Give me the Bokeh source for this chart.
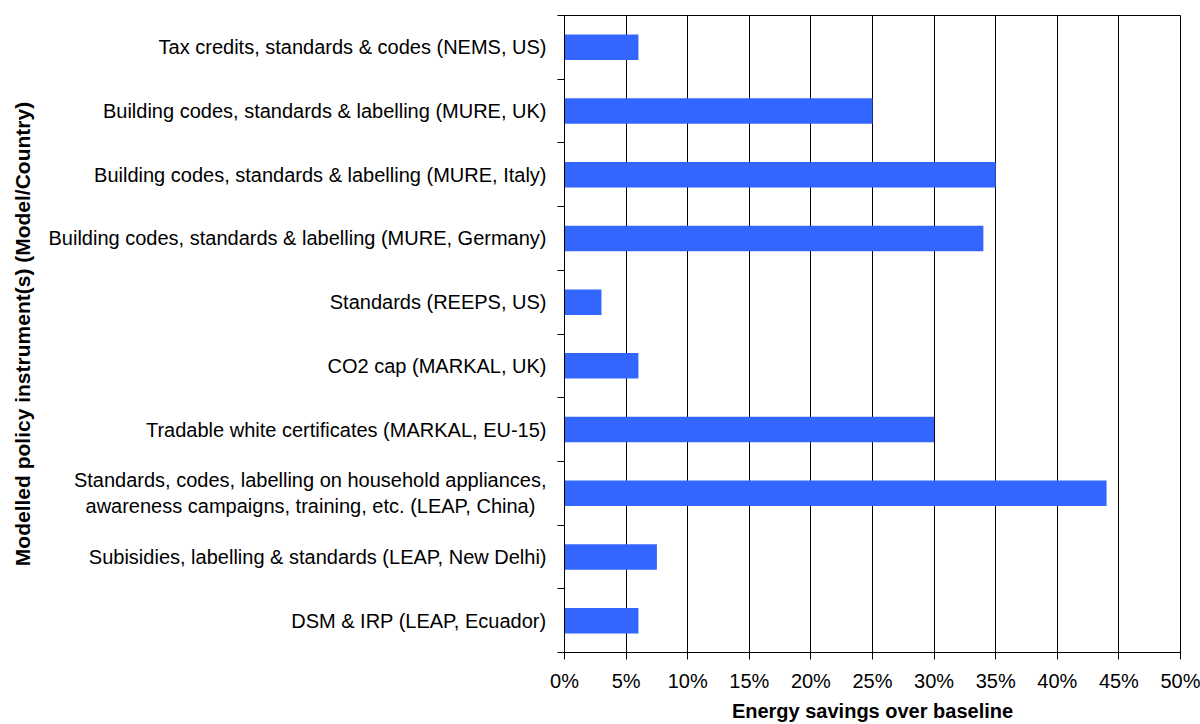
from bokeh.plotting import figure
from bokeh.models import FixedTicker, Range1d, NumeralTickFormatter
from bokeh.embed import file_html
from bokeh.resources import INLINE

# Data (top to bottom as shown)
categories = [
    "Tax credits, standards & codes (NEMS, US)",
    "Building codes, standards & labelling (MURE, UK)",
    "Building codes, standards & labelling (MURE, Italy)",
    "Building codes, standards & labelling (MURE, Germany)",
    "Standards (REEPS, US)",
    "CO2 cap (MARKAL, UK)",
    "Tradable white certificates (MARKAL, EU-15)",
    "Standards, codes, labelling on household appliances,\nawareness campaigns, training, etc. (LEAP, China)\u00a0\u00a0",
    "Subisidies, labelling & standards (LEAP, New Delhi)",
    "DSM & IRP (LEAP, Ecuador)",
]
savings = [0.06, 0.25, 0.35, 0.34, 0.03, 0.06, 0.30, 0.44, 0.075, 0.06]
x_ticks = [0.0, 0.05, 0.10, 0.15, 0.20, 0.25, 0.30, 0.35, 0.40, 0.45, 0.50]

n = len(categories)
centers = [n - i - 0.5 for i in range(n)]
boundaries = list(range(n + 1))

FONT = "Liberation Sans"

p = figure(
    width=1200, height=724,
    output_backend="svg", toolbar_location=None,
    x_range=Range1d(0, 0.5), y_range=Range1d(0, n),
    min_border_left=564, min_border_right=20,
    min_border_top=15, min_border_bottom=71,
)

p.hbar(y=centers, right=savings, left=0, height=0.4,
       fill_color="#3366FF", line_color=None)

# x axis
p.xaxis.ticker = FixedTicker(ticks=x_ticks)
p.xaxis.formatter = NumeralTickFormatter(format="0%")
p.xaxis.axis_label = "Energy savings over baseline"
p.xaxis.axis_label_text_font = FONT
p.xaxis.axis_label_text_font_style = "bold"
p.xaxis.axis_label_text_font_size = "20px"
p.xaxis.axis_label_text_color = "black"
p.xaxis.axis_label_standoff = 5
p.xaxis.major_label_text_font = FONT
p.xaxis.major_label_text_font_size = "20px"
p.xaxis.major_label_text_color = "black"
p.xaxis.major_label_standoff = 10
p.xaxis.major_tick_in = 0
p.xaxis.major_tick_out = 7
p.xaxis.major_tick_line_color = "black"
p.xaxis.minor_tick_line_color = None
p.xaxis.axis_line_color = "black"

# y axis: labels at centers, ticks at boundaries
p.yaxis.ticker = FixedTicker(ticks=centers, minor_ticks=boundaries)
p.yaxis.major_label_overrides = {c: lab for c, lab in zip(centers, categories)}
p.yaxis.major_label_text_font = FONT
p.yaxis.major_label_text_font_size = "20px"
p.yaxis.major_label_text_color = "black"
p.yaxis.major_label_standoff = 11
p.yaxis.major_tick_line_color = None
p.yaxis.major_tick_in = 0
p.yaxis.major_tick_out = 7
p.yaxis.minor_tick_line_color = "black"
p.yaxis.minor_tick_in = 0
p.yaxis.minor_tick_out = 7
p.yaxis.axis_line_color = "black"
p.yaxis.axis_label = "Modelled policy instrument(s) (Model/Country)"
p.yaxis.axis_label_text_font = FONT
p.yaxis.axis_label_text_font_style = "bold"
p.yaxis.axis_label_text_font_size = "21px"
p.yaxis.axis_label_text_color = "black"
p.yaxis.axis_label_standoff = 12

# grid
p.xgrid.ticker = FixedTicker(ticks=x_ticks)
p.xgrid.grid_line_color = "black"
p.xgrid.grid_line_width = 1
p.ygrid.grid_line_color = None

p.outline_line_color = "black"
p.outline_line_width = 1
p.background_fill_color = "white"
p.border_fill_color = "white"

open("out.html", "w").write(file_html(p, INLINE))
